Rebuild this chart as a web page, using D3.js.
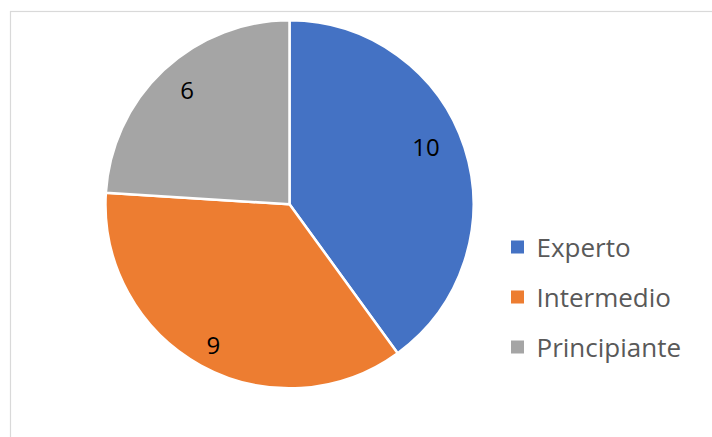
<!DOCTYPE html>
<html>
<head>
<meta charset="utf-8">
<script src="https://cdn.jsdelivr.net/npm/d3@7"></script>
<style>
  html, body { margin: 0; padding: 0; background: #ffffff; }
  svg { display: block; }
</style>
</head>
<body>
<svg id="chart" width="712" height="437"></svg>
<script>
// Skill levels and how many people fall in each
const categories = ["Experto", "Intermedio", "Principiante"];
const values = [10, 9, 6];
const colors = ["#4472C4", "#ED7D31", "#A5A5A5"];

// Small nudges so data labels sit where the best-fit layout places them
const labelNudge = { "Experto": [-10, -10], "Intermedio": [-2, 5], "Principiante": [3, -3] };

const svg = d3.select("#chart");
const W = 712, H = 437;
const cx = 289.5, cy = 204.3, R = 184;

// Chart area frame (only top and left edges fall inside the view)
svg.append("rect")
  .attr("x", 10.5).attr("y", 11.5)
  .attr("width", 900).attr("height", 600)
  .attr("fill", "none")
  .attr("stroke", "#D9D9D9")
  .attr("stroke-width", 1.2);

const data = categories.map((c, i) => ({ cat: c, value: values[i] }));

const pie = d3.pie().sort(null).value(d => d.value);
const arc = d3.arc().innerRadius(0).outerRadius(R);
const labelArc = d3.arc().innerRadius(154).outerRadius(154);
const color = d3.scaleOrdinal().domain(categories).range(colors);

const g = svg.append("g").attr("transform", `translate(${cx},${cy})`);
const arcs = pie(data);

g.selectAll("path.slice")
  .data(arcs)
  .join("path")
  .attr("class", "slice")
  .attr("d", arc)
  .attr("fill", d => color(d.data.cat))
  .attr("stroke", "#ffffff")
  .attr("stroke-width", 2.5)
  .attr("stroke-linejoin", "round");

g.selectAll("text.val")
  .data(arcs)
  .join("text")
  .attr("class", "val")
  .attr("transform", d => {
    const [x, y] = labelArc.centroid(d);
    const [dx, dy] = labelNudge[d.data.cat];
    return `translate(${x + dx},${y + dy})`;
  })
  .attr("text-anchor", "middle")
  .attr("dominant-baseline", "central")
  .attr("font-family", "'Open Sans', 'Noto Sans', sans-serif")
  .attr("font-size", 24)
  .attr("fill", "#000000")
  .text(d => d.data.value);

// Legend
const legendY = d3.scalePoint().domain(categories).range([247, 347]);
const legend = svg.append("g");
const items = legend.selectAll("g")
  .data(categories)
  .join("g")
  .attr("transform", c => `translate(511,${legendY(c)})`);

items.append("rect")
  .attr("x", 0).attr("y", -6.5)
  .attr("width", 13).attr("height", 13)
  .attr("fill", c => color(c));

items.append("text")
  .attr("x", 25.5)
  .attr("y", 9.5)
  .attr("font-family", "'Open Sans', 'Noto Sans', sans-serif")
  .attr("font-size", 26)
  .attr("fill", "#595959")
  .text(c => c);
</script>
</body>
</html>
